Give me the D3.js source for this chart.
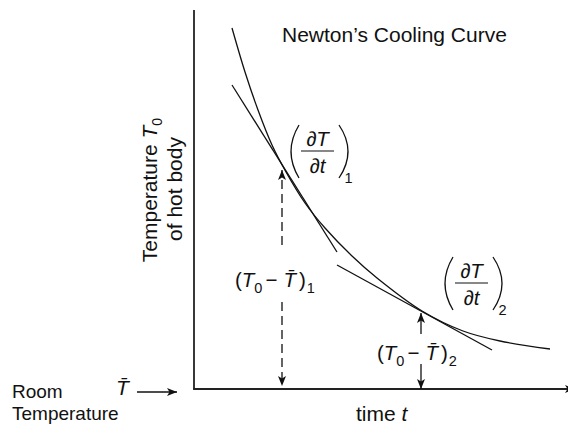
<!DOCTYPE html>
<html>
<head>
<meta charset="utf-8">
<script src="https://cdn.jsdelivr.net/npm/d3@7"></script>
<style>
  html, body { margin: 0; padding: 0; background: #fff; }
  svg { display: block; }
  text { font-family: "Liberation Sans", Arial, Helvetica, sans-serif; fill: #111; }
</style>
</head>
<body>
<svg id="chart" width="568" height="426"></svg>
<script>
// ---- data (arbitrary units: time t, temperature above room temperature) ----
const curveTime = [9.5, 12.75, 16, 19.5, 23, 27.75, 32.75, 39.5, 45.75, 57, 67.25, 76.5, 89];
const curveTemp = [90.25, 79.25, 69.75, 61, 54.25, 46.5, 40.25, 33.25, 27.75, 19.5, 14.5, 12, 10];

const tangent1Time = [9.5, 35.75];
const tangent1Temp = [76, 34.25];
const tangent2Time = [35.75, 74.5];
const tangent2Temp = [31, 9.75];

// tangent points where the excess temperature is measured
const pointTime = [22, 56.75];
const pointTemp = [54.75, 19];

const roomTemp = 0;
const axisMax = { time: 93.5, temp: 94.75 };

const titleText = "Newton\u2019s Cooling Curve";
const xLabel = "time ";
const yLabel1 = "Temperature ";
const yLabel2 = "of hot body";

// ---- scales ----
const svg = d3.select("#chart");
const x = d3.scaleLinear().domain([0, axisMax.time]).range([194, 568]);
const y = d3.scaleLinear().domain([0, axisMax.temp]).range([389, 10]);

// arrow marker
const defs = svg.append("defs");
defs.append("marker")
  .attr("id", "ah")
  .attr("viewBox", "0 0 10 8")
  .attr("refX", 10).attr("refY", 4)
  .attr("markerWidth", 10).attr("markerHeight", 8)
  .attr("markerUnits", "userSpaceOnUse")
  .attr("orient", "auto")
  .append("path")
  .attr("d", "M0,0 L10,4 L0,8 L2.5,4 Z")
  .attr("fill", "#111");

// ---- axes ----
svg.append("line")
  .attr("x1", x(0)).attr("y1", y(axisMax.temp))
  .attr("x2", x(0)).attr("y2", y(0))
  .attr("stroke", "#222").attr("stroke-width", 1.8);
svg.append("line")
  .attr("x1", x(0) - 0.9).attr("y1", y(0))
  .attr("x2", x(axisMax.time) + 7).attr("y2", y(0))
  .attr("stroke", "#222").attr("stroke-width", 1.8)
  .attr("marker-end", "url(#ah)");

// ---- curve ----
const pts = curveTime.map((t, i) => [t, curveTemp[i]]);
const line = d3.line().x(d => x(d[0])).y(d => y(d[1])).curve(d3.curveCatmullRom.alpha(0.5));
svg.append("path").attr("d", line(pts))
  .attr("fill", "none").attr("stroke", "#111").attr("stroke-width", 1.3);

// ---- tangents ----
[[tangent1Time, tangent1Temp], [tangent2Time, tangent2Temp]].forEach(([tt, tv]) => {
  svg.append("line")
    .attr("x1", x(tt[0])).attr("y1", y(tv[0]))
    .attr("x2", x(tt[1])).attr("y2", y(tv[1]))
    .attr("stroke", "#111").attr("stroke-width", 1.3);
});

// ---- measurement arrows ----
function arrow(t0, v0, t1, v1, dashed) {
  svg.append("line")
    .attr("x1", x(t0)).attr("y1", y(v0))
    .attr("x2", x(t1)).attr("y2", y(v1))
    .attr("stroke", "#111").attr("stroke-width", 1.3)
    .attr("stroke-dasharray", dashed ? "9,5" : null)
    .attr("marker-end", "url(#ah)");
}
// first point (dashed)
arrow(pointTime[0], 36, pointTime[0], pointTemp[0], true);
arrow(pointTime[0], 21.75, pointTime[0], roomTemp + 0.75, true);
// second point (solid)
arrow(pointTime[1], 13.75, pointTime[1], pointTemp[1], false);
arrow(pointTime[1], 6.25, pointTime[1], roomTemp, false);
// room temperature pointer
arrow(-14.25, roomTemp - 0.75, -4.25, roomTemp - 0.75, false);

// ---- texts ----
svg.append("text").attr("x", 282).attr("y", 42).attr("font-size", 21).text(titleText);

const xl = svg.append("text").attr("x", 356).attr("y", 421).attr("font-size", 21);
xl.append("tspan").text(xLabel);
xl.append("tspan").attr("font-style", "italic").text("t");

const yl1 = svg.append("text").attr("transform", "translate(157,190) rotate(-90)")
  .attr("text-anchor", "middle").attr("font-size", 21);
yl1.append("tspan").text(yLabel1);
yl1.append("tspan").attr("font-style", "italic").text("T");
yl1.append("tspan").attr("font-size", 14).attr("dy", 5).text("0");

svg.append("text").attr("transform", "translate(182,189) rotate(-90)")
  .attr("text-anchor", "middle").attr("font-size", 21).text(yLabel2);

svg.append("text").attr("x", 12).attr("y", 398).attr("font-size", 19).text("Room");
svg.append("text").attr("x", 12).attr("y", 420).attr("font-size", 19).text("Temperature");

svg.append("text").attr("x", 116).attr("y", 395).attr("font-size", 21)
  .attr("font-style", "italic").text("T\u0304");

function diffLabel(px, py, sub) {
  const t = svg.append("text").attr("x", px).attr("y", py).attr("font-size", 20.5);
  t.append("tspan").text("(");
  t.append("tspan").attr("font-style", "italic").text("T");
  t.append("tspan").attr("font-size", 14.5).attr("dy", 6).text("0");
  t.append("tspan").attr("dy", -6).attr("dx", 3).text("\u2212");
  t.append("tspan").attr("dx", 6).attr("font-style", "italic").text("T\u0304");
  t.append("tspan").attr("dx", 3).text(")");
  t.append("tspan").attr("font-size", 14.5).attr("dy", 6).attr("dx", 1).text(sub);
}
diffLabel(235, 287, "1");
diffLabel(377, 360, "2");

function frac(cx, ly, sub) {
  const g = svg.append("g");
  const num = g.append("text").attr("x", cx).attr("y", ly - 5).attr("text-anchor", "middle").attr("font-size", 20.5);
  num.append("tspan").text("\u2202");
  num.append("tspan").attr("font-style", "italic").text("T");
  const den = g.append("text").attr("x", cx).attr("y", ly + 22).attr("text-anchor", "middle").attr("font-size", 20.5);
  den.append("tspan").text("\u2202");
  den.append("tspan").attr("font-style", "italic").text("t");
  g.append("line").attr("x1", cx - 16.5).attr("x2", cx + 16.5).attr("y1", ly).attr("y2", ly)
    .attr("stroke", "#111").attr("stroke-width", 1.2);
  const top = ly - 26, bot = ly + 27, mid = (top + bot) / 2;
  const lx = cx - 18.5, rx = cx + 21.5;
  g.append("path").attr("d", `M${lx},${top} Q${lx - 16},${mid} ${lx},${bot}`)
    .attr("fill", "none").attr("stroke", "#111").attr("stroke-width", 1.3);
  g.append("path").attr("d", `M${rx},${top} Q${rx + 18},${mid} ${rx},${bot}`)
    .attr("fill", "none").attr("stroke", "#111").attr("stroke-width", 1.3);
  g.append("text").attr("x", cx + 27).attr("y", bot + 5).attr("font-size", 14.5).text(sub);
}
frac(317.5, 151, "1");
frac(471.5, 283, "2");
</script>
</body>
</html>
